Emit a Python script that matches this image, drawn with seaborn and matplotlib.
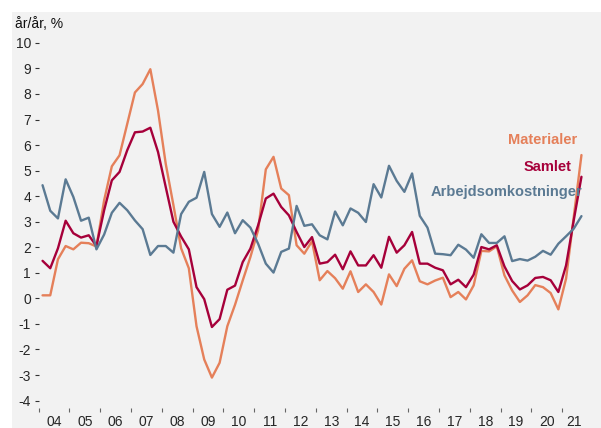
import numpy as np
import pandas as pd
import matplotlib
matplotlib.use('Agg')
import matplotlib.pyplot as plt
import seaborn as sns
from matplotlib.patches import Rectangle

# quarterly data, 2004Q1 - 2021Q3 (år/år, %)
materialer = [0.12, 0.12, 1.53, 2.05, 1.92, 2.18, 2.16, 2.03, 3.84, 5.17, 5.6, 6.83,
              8.06, 8.39, 8.97, 7.35, 5.27, 3.65, 1.96, 1.18, -1.09, -2.39, -3.1, -2.52,
              -1.09, -0.25, 0.7, 1.62, 2.67, 5.05, 5.54, 4.3, 4.04, 2.08, 1.75, 2.24,
              0.71, 1.07, 0.79, 0.38, 1.06, 0.25, 0.55, 0.25, -0.24, 0.94, 0.48, 1.16,
              1.49, 0.67, 0.55, 0.7, 0.81, 0.05, 0.25, -0.04, 0.51, 1.86, 1.84, 2.04,
              0.9, 0.31, -0.14, 0.12, 0.52, 0.44, 0.21, -0.43, 0.77, 3.19, 5.61]
samlet = [1.47, 1.18, 1.96, 3.04, 2.55, 2.38, 2.47, 2.05, 3.45, 4.62, 4.95, 5.8,
          6.5, 6.53, 6.68, 5.73, 4.36, 3.0, 2.42, 1.92, 0.44, -0.03, -1.12, -0.81,
          0.34, 0.5, 1.42, 1.95, 2.86, 3.91, 4.1, 3.58, 3.25, 2.6, 2.01, 2.4,
          1.36, 1.42, 1.71, 1.14, 1.84, 1.29, 1.29, 1.69, 1.2, 2.41, 1.79, 2.08,
          2.6, 1.36, 1.36, 1.2, 1.1, 0.55, 0.73, 0.44, 0.93, 2.01, 1.92, 2.08,
          1.25, 0.68, 0.35, 0.51, 0.8, 0.84, 0.71, 0.25, 1.29, 3.06, 4.76]
arbejds = [4.43, 3.43, 3.13, 4.66, 3.97, 3.04, 3.16, 1.92, 2.5, 3.35, 3.74, 3.45,
           3.05, 2.71, 1.7, 2.05, 2.05, 1.79, 3.3, 3.78, 3.94, 4.95, 3.3, 2.8,
           3.36, 2.55, 3.06, 2.77, 2.14, 1.36, 1.01, 1.82, 1.95, 3.62, 2.84, 2.9,
           2.47, 2.31, 3.4, 2.86, 3.52, 3.35, 2.99, 4.47, 3.95, 5.19, 4.6, 4.17,
           4.89, 3.23, 2.77, 1.75, 1.73, 1.69, 2.1, 1.91, 1.59, 2.51, 2.17, 2.17,
           2.43, 1.46, 1.54, 1.48, 1.63, 1.86, 1.71, 2.14, 2.43, 2.73, 3.22]
year_labels = ['04', '05', '06', '07', '08', '09', '10', '11', '12',
               '13', '14', '15', '16', '17', '18', '19', '20', '21']
series_names = ['Materialer', 'Samlet', 'Arbejdsomkostninger']

n = len(samlet)
quarters = np.arange(n)
df = pd.DataFrame({
    'q': np.tile(quarters, 3),
    'value': materialer + samlet + arbejds,
    'serie': np.repeat(series_names, n),
})

colors = {'Materialer': '#E5805A', 'Samlet': '#A6003A', 'Arbejdsomkostninger': '#5B7A93'}
bg = '#F2F2F2'

sns.set_style('white')
plt.rcParams['font.family'] = ['Liberation Sans', 'DejaVu Sans']

fig = plt.figure(figsize=(6.01, 4.28), dpi=100, facecolor='white')
fig.patches.append(Rectangle((12 / 601, 0), 1, 1 - 12 / 428, transform=fig.transFigure,
                             facecolor=bg, edgecolor='none', zorder=-10))
ax = fig.add_axes([38.7 / 601, (428 - 408) / 428, (593 - 38.7) / 601, (408 - 36) / 428])
ax.patch.set_alpha(0)

sns.lineplot(data=df, x='q', y='value', hue='serie', palette=colors,
             linewidth=1.7, legend=False, ax=ax)

ax.set_xlim(-0.5, 71.5)
ax.set_ylim(-4.29, 10.27)
ax.set_yticks(range(-4, 11))
ax.set_yticklabels([str(v) for v in range(-4, 11)])
ax.tick_params(axis='y', length=3, width=0.8, color='#333333', pad=2.5,
               labelsize=10, direction='out', left=True)

# year labels centred on available quarters, ticks at year boundaries
centers = [min(4 * k + 1.5, (4 * k + n - 1) / 2) for k in range(len(year_labels))]
ax.set_xticks(centers)
ax.set_xticklabels(year_labels)
ax.set_xticks([4 * k - 0.5 for k in range(len(year_labels))], minor=True)
ax.tick_params(axis='x', which='major', length=0, labelsize=10, pad=5)
ax.tick_params(axis='x', which='minor', length=3, width=0.8, color='#666666',
               direction='out', bottom=True)

for s in ax.spines.values():
    s.set_visible(False)
ax.set_xlabel('')
ax.set_ylabel('')

ax.text(69.4, 6.04, 'Materialer', color=colors['Materialer'], fontsize=10.5,
        fontweight='bold', ha='right', va='baseline')
ax.text(68.7, 4.99, 'Samlet', color=colors['Samlet'], fontsize=10.5,
        fontweight='bold', ha='right', va='baseline')
ax.text(70.07, 4.0, 'Arbejdsomkostninger', color=colors['Arbejdsomkostninger'],
        fontsize=10.5, fontweight='bold', ha='right', va='baseline')

fig.text(15 / 601, (428 - 28.5) / 428, 'år/år, %', fontsize=10, ha='left',
         va='baseline', color='#111111')

fig.savefig('out.png', dpi=100, facecolor='white')
